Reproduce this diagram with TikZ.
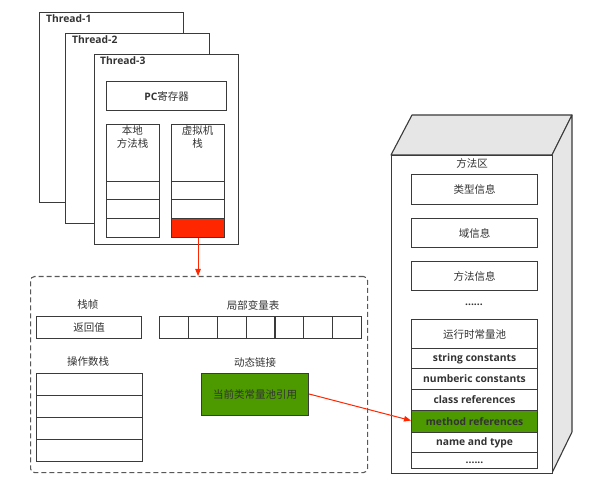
\documentclass[tikz,border=0pt]{standalone}
\usepackage{fontspec}
\setmainfont{Open Sans}
\newfontfamily\cjk{Noto Sans CJK SC}
\usetikzlibrary{arrows.meta}
\definecolor{linec}{HTML}{3A3A3A}
\definecolor{txt}{HTML}{333333}
\definecolor{redc}{HTML}{FF2600}
\definecolor{greenc}{HTML}{4D9900}
\definecolor{sidec}{HTML}{E6E6E6}
\tikzset{
  box/.style={draw=linec, line width=1.1pt, fill=white, anchor=north west, inner sep=0pt, text=txt},
  cn/.style={font=\cjk\fontsize{10.5}{13.5}\selectfont, text=txt, inner sep=0pt},
  en/.style={font=\fontsize{10.3}{12}\selectfont\bfseries, text=txt, inner sep=0pt},
  redarrow/.style={draw=redc, line width=1pt, -{Triangle[length=7pt,width=5.5pt]}},
}
\begin{document}
\begin{tikzpicture}[x=1pt,y=-1pt]
\useasboundingbox (0,0) rectangle (590,484);
% threads
\node[box, minimum width=144pt, minimum height=190pt] (t1) at (39,12) {};
\node[en, anchor=west] (t1l) at (46,19) {Thread-1};
\node[box, minimum width=144pt, minimum height=190pt] (t2) at (65,33) {};
\node[en, anchor=west] (t2l) at (72,40) {Thread-2};
\node[box, minimum width=144pt, minimum height=190pt] (t3) at (94,54) {};
\node[en, anchor=west] (t3l) at (100,61) {Thread-3};
\node[box, minimum width=120pt, minimum height=29pt] (pc) at (106,81) {};
\node[cn] (pcl) at (pc.center) {\fontspec{Open Sans}\bfseries\fontsize{10.3}{12}\selectfont PC\cjk\mdseries\fontsize{10.5}{13.5}\selectfont 寄存器};
% native method stack
\node[box, minimum width=53pt, minimum height=113pt] (ns) at (106,124) {};
\node[cn, align=center, anchor=north] (nsl) at (132.5,125) {本地\\方法栈};
\node[box, minimum width=53pt, minimum height=18pt] (ns1) at (106,181) {};
\node[box, minimum width=53pt, minimum height=19pt] (ns2) at (106,199) {};
\node[box, minimum width=53pt, minimum height=19pt] (ns3) at (106,218) {};
% vm stack
\node[box, minimum width=53pt, minimum height=113pt] (vs) at (171,124) {};
\node[cn, align=center, anchor=north] (vsl) at (197.5,125) {虚拟机\\栈};
\node[box, minimum width=53pt, minimum height=18pt] (vs1) at (171,181) {};
\node[box, minimum width=53pt, minimum height=19pt] (vs2) at (171,199) {};
\node[box, fill=redc, minimum width=53pt, minimum height=19pt] (vs3) at (171,218) {};
% frame
\node[draw=linec!85, line width=1.1pt, dashed, dash pattern=on 5pt off 3pt, rounded corners=4pt, anchor=north west, minimum width=337pt, minimum height=196pt, inner sep=0pt] (frame) at (30,276) {};
\draw[redarrow] (vs3.south) -- (vs3.south |- frame.north);
\node[cn] (zz) at (88,305) {栈帧};
\node[box, minimum width=105pt, minimum height=22pt] (ret) at (36,316) {};
\node[cn] (retl) at (ret.center) {返回值};
\node[cn] (lvl) at (253,305) {局部变量表};
\foreach \i in {0,...,6} {
  \node[box, minimum width=28.86pt, minimum height=22pt] (lv\i) at (159+28.86*\i,316) {};
}
\node[cn] (osl) at (88,362) {操作数栈};
\foreach \i in {0,...,3} {
  \node[box, minimum width=106pt, minimum height=22pt] (os\i) at (36,373+22*\i) {};
}
\node[cn] (dll) at (255,362) {动态链接};
\node[box, fill=greenc, minimum width=107pt, minimum height=42pt] (dl) at (201,373) {};
\node[cn] (dltxt) at (dl.center) {当前类常量池引用};
% method area
\coordinate (fa) at (391,155);
\coordinate (fb) at (552,155);
\coordinate (fc) at (552,473);
\coordinate (fd) at (391,473);
\coordinate (ba) at (412,115);
\coordinate (bb) at (572,115);
\coordinate (bc) at (572,432);
\draw[draw=linec, line width=1.1pt, fill=sidec, line join=round] (fa) -- (ba) -- (bb) -- (fb) -- cycle;
\draw[draw=linec, line width=1.1pt, fill=sidec, line join=round] (fb) -- (bb) -- (bc) -- (fc) -- cycle;
\node[box, minimum width=161pt, minimum height=318pt] (ma) at (fa) {};
\node[cn] (mal) at (472,163) {方法区};
\node[box, minimum width=126pt, minimum height=30pt] (m1) at (411,174) {};
\node[cn] at (m1.center) {类型信息};
\node[box, minimum width=126pt, minimum height=29pt] (m2) at (411,218) {};
\node[cn] at (m2.center) {域信息};
\node[box, minimum width=126pt, minimum height=29pt] (m3) at (411,261) {};
\node[cn] at (m3.center) {方法信息};
\node[en] (mdots) at (474,305) {......};
\node[box, minimum width=126pt, minimum height=29pt] (rc) at (411,319) {};
\node[cn] at (rc.center) {运行时常量池};
\node[box, minimum width=126pt, minimum height=20pt] (r1) at (411,348) {};
\node[en] at (r1.center) {string constants};
\node[box, minimum width=126pt, minimum height=21pt] (r2) at (411,368) {};
\node[en] at (r2.center) {numberic constants};
\node[box, minimum width=126pt, minimum height=21pt] (r3) at (411,389) {};
\node[en] at (r3.center) {class references};
\node[box, fill=greenc, minimum width=126pt, minimum height=22pt] (r4) at (411,410) {};
\node[en] at (r4.center) {method references};
\node[box, minimum width=126pt, minimum height=20pt] (r5) at (411,432) {};
\node[en] at (r5.center) {name and type};
\node[box, minimum width=126pt, minimum height=16pt] (r6) at (411,452) {};
\node[en] at ([yshift=-2pt]r6.center) {......};
\draw[redarrow] ([yshift=-21pt]dl.north east) -- ([yshift=1pt]r4.west);
\end{tikzpicture}
\end{document}
